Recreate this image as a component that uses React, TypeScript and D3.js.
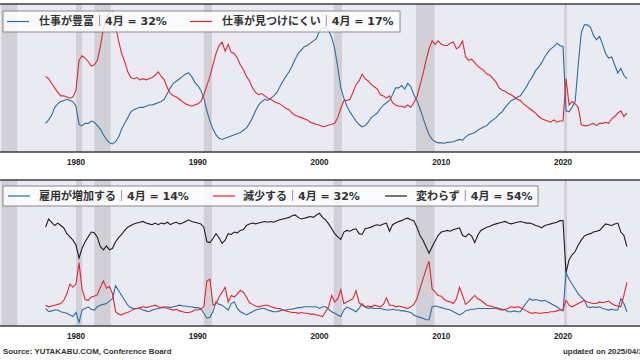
import React from "react";
import * as d3 from "d3";

// quarterly readings, first point 1977 Q3
const START = 1977.5;
const STEP = 0.25;

const tickYears = [1980, 1990, 2000, 2010, 2020];

const recessions = [
  [1973.87, 1975.17],
  [1980.0, 1980.5],
  [1981.5, 1982.85],
  [1990.5, 1991.17],
  [2001.17, 2001.85],
  [2007.92, 2009.45],
  [2020.1, 2020.33],
];

// 仕事が豊富 (%)
const plentiful = [
  12.5, 14,
  16, 19.5, 21, 22,
  22.5, 23, 22.5, 22,
  20, 12, 11.5, 12.5,
  12.5, 13.5, 13, 11.5,
  10, 7.5, 5.5, 4,
  3.5, 4.5, 6.5, 10,
  12.5, 15, 17.5, 18.5,
  19, 19.5, 19.5, 20,
  20.5, 20.5, 21, 21.5,
  22, 23, 25.5, 28,
  30, 31, 32, 33,
  34, 34.5, 33, 30.5,
  29, 27, 23.5, 18,
  13.5, 10, 7.5, 6,
  5.5, 6, 6.5, 7,
  7.5, 8, 8.5, 9.5,
  10.5, 12.5, 15, 18,
  20.5, 22, 23, 22.5,
  23.5, 24.5, 26, 28.5,
  31, 33, 35, 37.5,
  40.5, 43, 44.5, 46,
  46.5, 47.5, 48.5, 49.5,
  53, 54, 54.5, 53,
  50, 45, 37, 28,
  23.5, 20, 17.5, 15.5,
  13.5, 12, 11, 11.5,
  13, 15, 16, 17,
  19, 20.5, 21.5, 22.5,
  25, 28, 28, 29,
  27.5, 30, 28.5, 25,
  22.5, 19, 15, 11,
  7.5, 5.5, 4.5, 4,
  4, 3.8, 4.2, 4.3,
  4.5, 5, 5.5, 5.2,
  6.5, 7.5, 8, 8.5,
  9.5, 10.3, 11, 11.5,
  13, 14, 15, 16.5,
  17.5, 19.5, 21, 22.5,
  23, 24, 24.5, 26.5,
  28.5, 31, 33, 35.5,
  37, 39, 41.5, 43.5,
  45, 46, 47.5, 46.5,
  46, 18, 17.5, 19.5,
  22, 38, 52, 55.5,
  55.5, 54.5, 51, 49,
  50.5, 47, 43, 41,
  41.5, 38, 34.5, 36.5,
  33.5, 32,
];

// 仕事が見つけにくい (%)
const hardToGet = [
  33, 32,
  30, 28, 26, 24.5,
  24.5, 24, 23.5, 24,
  27, 40, 42, 41,
  39.5, 37.5, 38, 40,
  46, 54, 58.5, 61,
  61.5, 55, 48.5, 43,
  39.5, 35, 32.5, 32,
  32.5, 31.5, 32, 31.5,
  32, 32.5, 33.5, 35,
  33, 31.5, 28, 25.5,
  24.5, 24, 23, 22,
  21, 20.5, 20, 20.5,
  21, 22, 25, 29,
  33, 38, 43, 46.5,
  48, 44, 47, 43.5,
  43, 41, 38, 36,
  33, 31, 28, 26,
  25, 25.5, 24.5, 23.5,
  23, 22, 21.5, 21,
  20, 19, 18.5, 17,
  16, 15.5, 15, 14.5,
  14, 13, 12.5, 12,
  11.8, 11, 11.2, 11.8,
  12, 12.5, 15, 19,
  22.5, 22.5, 23, 26,
  29.5, 31, 34, 32,
  31, 29.5, 28.5, 27.5,
  25, 24.5, 23.5, 24.5,
  21.5, 20.5, 20, 20,
  19.5, 20.5, 19.5, 21.5,
  24, 29, 34, 40,
  45, 48.5, 47, 48.5,
  47, 46.5, 46.5, 47.5,
  48, 45, 46, 48.5,
  41.5, 40, 40.5, 39,
  37.5, 36.5, 35.5, 34,
  33.5, 32, 30.5, 28,
  27, 26.5, 25.5, 25,
  24, 23, 22.5, 21,
  20, 19, 18, 17,
  15.5, 14.5, 14, 13.5,
  13, 14, 13, 13.5,
  13.5, 32, 20.5, 22,
  21, 19.5, 12, 11.5,
  11.5, 12, 12.5, 11.5,
  12.5, 12.5, 13, 12.5,
  14.5, 15.5, 17, 18,
  15.5, 17,
];

// 雇用が増加する (%)
const empMore = [
  16, 14,
  14.5, 15, 15, 14,
  13.5, 13, 12, 11,
  13.5, 7.5, 15, 16,
  17, 15.5, 15, 17,
  18, 18.5, 19, 20.5,
  22, 30, 27, 24,
  21, 18, 16.5, 16,
  16, 16, 15, 14.5,
  14, 15, 15.5, 16,
  16.5, 16.5, 17, 16.5,
  17, 17.5, 18, 17.5,
  17.5, 17, 17, 16.5,
  16.5, 16, 13, 10,
  10.5, 14, 20, 18.5,
  18, 16.5, 15, 19,
  20, 16, 14, 13,
  12, 13, 14, 15,
  15.5, 16, 16, 15,
  14.5, 14, 14, 14.5,
  15, 15, 15.5, 15.5,
  16, 16.5, 16.5, 17,
  17, 17, 17, 17,
  16, 17, 17, 15.5,
  14, 13, 12, 11,
  15, 17, 16, 15,
  14, 16, 19, 17,
  16, 16.5, 16, 16,
  16, 15.5, 15, 15,
  15.5, 15, 15, 14.5,
  14.5, 14, 13.5, 12,
  11, 10.5, 10, 9,
  9, 17, 17.5, 17,
  16.5, 16, 15.5, 15,
  14, 13, 12, 13,
  14.5, 15, 15.5, 15.5,
  16, 16, 16, 16,
  16, 16, 16.5, 16,
  15.5, 15, 14, 14,
  14.5, 14, 14, 17,
  19.5, 22, 21, 21.5,
  21, 20.5, 21, 20,
  19, 18, 17, 15.5,
  14.5, 38, 34, 31,
  28, 25, 23, 21,
  17, 16.5, 17, 16.5,
  17, 16, 15.5, 15,
  15.5, 15, 15, 22,
  19, 14,
];

// 減少する (%)
const empFewer = [
  18, 17,
  17.5, 18, 18.5, 19,
  21, 25, 31, 29,
  31, 44, 28, 21.5,
  21, 23, 23.5, 24.5,
  29, 33, 28.5, 29.5,
  25, 14, 12.5, 12,
  13, 13.5, 14.5, 15.5,
  16, 16.5, 17, 16.5,
  17, 17.5, 18, 17,
  16.5, 17, 16, 15.5,
  15, 15.5, 14.5, 14,
  13.5, 13.5, 14, 15,
  15, 15.5, 17, 33,
  34, 18, 19, 23,
  26, 29, 20, 24,
  23, 25, 27, 26,
  23, 19.5, 18.5, 17.5,
  17, 17.5, 18, 18,
  17, 16.5, 16, 16,
  15, 14.5, 14, 13.5,
  13.5, 13, 13.5, 13,
  13, 12.5, 12.5, 12,
  11.5, 11, 14, 17,
  24, 20, 22, 27.5,
  19, 20, 21, 22,
  27, 19.5, 18, 17,
  17.5, 17, 18, 17.5,
  17, 18.5, 22.5, 18,
  18, 17, 17.5, 17,
  16.5, 16, 17, 18.5,
  22, 28, 34, 40,
  45, 28, 26, 24,
  23.5, 21.5, 20.5, 20,
  19, 22, 29, 24,
  18.5, 20, 22, 24,
  22, 21, 19.5, 18,
  17.5, 17, 16, 15.5,
  15, 15.5, 16, 17,
  16.5, 17, 16.5, 15.5,
  14.5, 13.5, 13, 13.5,
  13, 13, 13.5, 13.5,
  14, 14, 14.5, 15,
  15, 21, 18, 17,
  18, 19, 20, 21,
  20, 19.5, 19, 19,
  20, 19.5, 20, 20.5,
  19, 18, 17.5, 17,
  24, 32,
];

// 変わらず (%)
const empSame = [
  66, 71,
  69, 67, 68.5, 67,
  65.5, 62, 60, 58,
  55, 47, 53, 57,
  60, 63, 62.5, 60,
  54, 52, 54.5, 52,
  53, 57, 59.5, 61.5,
  64, 66, 67, 68,
  68.5, 69, 69.5, 68.5,
  68, 67.5, 68.5, 67.5,
  68.5, 68, 69, 67.5,
  68.5, 69, 68, 68.5,
  69.5, 70.5, 69.5, 69,
  68.5, 68, 66, 57,
  56.5, 59, 62, 59.5,
  56, 58, 62, 61.5,
  63, 62.5, 64, 64.5,
  67, 68, 68.5, 68,
  68.5, 69, 69.5, 69,
  69.5, 69, 70, 70.5,
  71, 71.5, 72, 73,
  73.5, 72, 71, 71.5,
  72, 72.5, 72, 73.5,
  74.5, 72, 70.5, 68,
  65, 62, 60, 58.5,
  63, 64, 63.5, 64.5,
  65, 62, 61.5, 65,
  65.5, 66, 67, 67.5,
  67, 68, 68.5, 63.5,
  67.5, 68.5, 69.5, 70,
  71, 71.5, 70.5, 70,
  66, 61, 58, 54,
  50, 54, 57.5, 61,
  63, 63.5, 64, 63.5,
  64.5, 65, 65.5, 61,
  60, 62, 60.5, 56.5,
  61, 64, 65, 66,
  66.5, 67.5, 68, 68.5,
  69, 69.5, 68.5, 68,
  68.5, 69, 69.5, 69,
  68.5, 68.5, 68, 67,
  66.5, 65.5, 67, 67.5,
  68, 68.5, 69, 70,
  70, 38, 46, 49,
  51, 55, 58, 60.5,
  61.5, 62, 63, 63.5,
  64, 66, 68, 67.5,
  67, 68, 68.5, 63,
  61, 54,
];

const topLabels = ["仕事が豊富｜4月 = 32%", "仕事が見つけにくい｜4月 = 17%"];
const bottomLabels = [
  "雇用が増加する｜4月 = 14%",
  "減少する｜4月 = 32%",
  "変わらず｜4月 = 54%",
];

const BLUE = "#2b6ea6";
const RED = "#e4262d";
const BLACK = "#1e1e1e";
const LEGEND_FONT = "'DejaVu Sans', 'Noto Sans CJK JP', sans-serif";
const SMALL_FONT = "'Liberation Sans', Arial, sans-serif";

const W = 640;
const H = 360;

const x = d3.scaleLinear().domain([1980, 2020]).range([76, 563]);

function Panel(props: Props) {
  const { id, top, bottom, domain, series, legend } = props;
  const y = d3.scaleLinear().domain(domain).range([bottom, top]);
  const line = d3
    .line<number>()
    .x((d, i) => x(START + i * STEP))
    .y((d) => y(d));

  return (
    <g>
      <defs>
        <clipPath id={id}>
          <rect x={0} y={top} width={W} height={bottom - top} />
        </clipPath>
      </defs>
      <rect x={0} y={top} width={W} height={bottom - top} fill="#eaeaf2" />
      {recessions.map((r, i) => (
        <rect
          key={i}
          x={x(r[0])}
          y={top}
          width={x(r[1]) - x(r[0])}
          height={bottom - top}
          fill="#d0d0d6"
        />
      ))}
      <g clipPath={`url(#${id})`}>
        {series.map((s, i) => (
          <path key={i} d={line(s.values) || ""} fill="none" stroke={s.color} strokeWidth={1.1} />
        ))}
      </g>
      <rect
        x={3}
        y={legend.y}
        width={legend.width}
        height={legend.h}
        fill="#ffffff"
        fillOpacity={0.82}
        stroke="#8a8a8a"
        strokeWidth={1}
      />
      {series.map((s, i) => (
        <g key={i}>
          <line
            x1={legend.lineX[i]}
            x2={legend.lineX[i] + 22}
            y1={legend.y + legend.h / 2}
            y2={legend.y + legend.h / 2}
            stroke={s.color}
            strokeWidth={1.2}
          />
          <text
            x={legend.textX[i]}
            y={legend.y + legend.h / 2}
            dy="0.36em"
            fontFamily={LEGEND_FONT}
            fontWeight="bold"
            fontSize={11}
            fill="#333"
          >
            {s.label}
          </text>
        </g>
      ))}
      <line x1={0} x2={W} y1={top} y2={top} stroke="#3c3c3c" strokeWidth={1.5} />
      <line x1={0} x2={W} y1={bottom} y2={bottom} stroke="#3c3c3c" strokeWidth={1.5} />
      {tickYears.map((t) => (
        <text
          key={t}
          x={x(t)}
          y={bottom + 10}
          dy="0.36em"
          textAnchor="middle"
          fontFamily={SMALL_FONT}
          fontWeight="bold"
          fontSize={8.2}
          fill="#222"
        >
          {t}
        </text>
      ))}
    </g>
  );
}

interface Props {
  id: string;
  top: number;
  bottom: number;
  domain: number[];
  series: { values: number[]; color: string; label: string }[];
  legend: { y: number; h: number; width: number; lineX: number[]; textX: number[] };
}

export default function App() {
  return (
    <svg
      width={W}
      height={H}
      style={{ position: "absolute", left: 0, top: 0, background: "#fff" }}
    >
      <Panel
        id="clipTop"
        top={4}
        bottom={152}
        domain={[0, 64.6]}
        series={[
          { values: plentiful, color: BLUE, label: topLabels[0] },
          { values: hardToGet, color: RED, label: topLabels[1] },
        ]}
        legend={{ y: 11, h: 21, width: 397, lineX: [7, 190], textX: [39, 222] }}
      />
      <Panel
        id="clipBottom"
        top={180}
        bottom={326}
        domain={[5.2, 95]}
        series={[
          { values: empMore, color: BLUE, label: bottomLabels[0] },
          { values: empFewer, color: RED, label: bottomLabels[1] },
          { values: empSame, color: BLACK, label: bottomLabels[2] },
        ]}
        legend={{ y: 186, h: 20, width: 535, lineX: [8, 213, 385], textX: [39, 243, 416] }}
      />
      <text x={3} y={351} dy="0.36em" fontFamily={SMALL_FONT} fontWeight="bold" fontSize={7.9} fill="#333">
        Source: YUTAKABU.COM, Conference Board
      </text>
      <text x={563} y={351} dy="0.36em" fontFamily={SMALL_FONT} fontWeight="bold" fontSize={7.9} fill="#333">
        updated on 2025/04/30
      </text>
    </svg>
  );
}
